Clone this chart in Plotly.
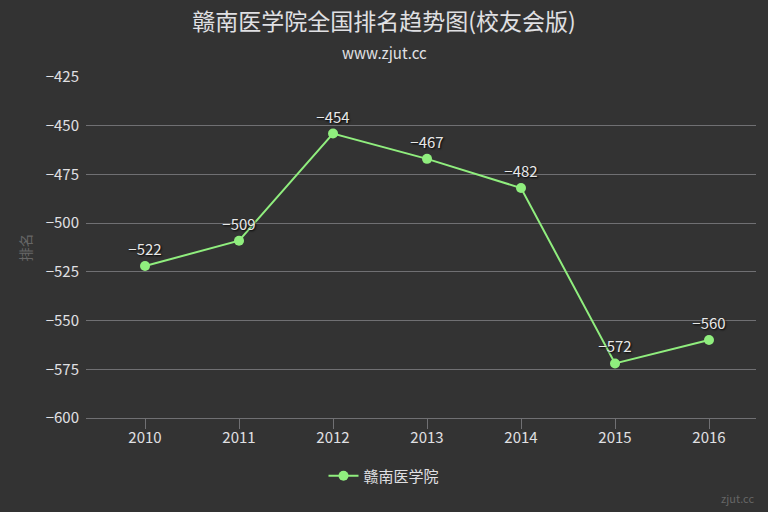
import plotly.graph_objects as go

years = ["2010", "2011", "2012", "2013", "2014", "2015", "2016"]
ranks = [-522, -509, -454, -467, -482, -572, -560]
y_ticks = [-425, -450, -475, -500, -525, -550, -575, -600]
series_name = "赣南医学院"
title_text = "赣南医学院全国排名趋势图(校友会版)"
subtitle_text = "www.zjut.cc"

FONT = "Noto Sans CJK SC, Noto Sans, sans-serif"
W, H = 768, 512
L, R, T, B = 86, 12, 77, 94
PH = H - T - B
PW = W - L - R

fig = go.Figure()
fig.add_trace(go.Scatter(
    x=list(range(len(years))), y=ranks, name=series_name,
    mode="lines+markers+text",
    line=dict(color="#90ee7e", width=2),
    marker=dict(color="#90ee7e", size=10),
    text=[str(v).replace("-", "−") for v in ranks],
    textposition="top center",
    textfont=dict(family=FONT, size=15, color="#e8e8e8", shadow="1px 1px 2px #000"),
    cliponaxis=False,
))

fig.update_layout(
    width=W, height=H,
    margin=dict(l=L, r=R, t=T, b=B, autoexpand=False),
    paper_bgcolor="#333333", plot_bgcolor="#333333",
    font=dict(family=FONT, color="#e0e0e3"),
    title=dict(text=title_text, x=0.5, xanchor="center", y=1 - 22 / H, yanchor="middle",
               font=dict(size=23, color="#e0e0e3")),
    showlegend=True,
    legend=dict(orientation="h", x=0.5, xanchor="center", xref="container",
                y=(H - 476) / H, yanchor="middle", yref="container",
                font=dict(size=15, color="#e0e0e3"), bgcolor="rgba(0,0,0,0)"),
    xaxis=dict(
        tickmode="array", tickvals=list(range(len(years))), ticktext=years,
        range=[-0.628, 6.5], showgrid=False, zeroline=False,
        showline=True, linecolor="#707073", linewidth=1,
        ticks="outside", tickson="boundaries", ticklen=10, tickcolor="#707073",
        ticklabelstandoff=-4,
        tickfont=dict(size=15, color="#e0e0e3"), automargin=False,
    ),
    yaxis=dict(
        range=[-600, -425], tickmode="array", tickvals=y_ticks,
        ticktext=[str(v).replace("-", "−") for v in y_ticks],
        showgrid=True, gridcolor="#707073", gridwidth=1, zeroline=False,
        showline=False, ticks="", ticklabelstandoff=6,
        tickfont=dict(size=15, color="#e0e0e3"), automargin=False,
        title=dict(text="排名", font=dict(size=14, color="#666666"), standoff=10),
    ),
    annotations=[
        dict(text=subtitle_text, xref="paper", yref="paper", x=(W / 2 - L) / PW, y=1 + (T - 52) / PH,
             xanchor="center", yanchor="middle", showarrow=False,
             font=dict(size=15, color="#e0e0e3")),
        dict(text="zjut.cc", xref="paper", yref="paper", x=1, y=-(498 - (H - B)) / PH,
             xanchor="right", yanchor="middle", showarrow=False,
             font=dict(size=11, color="#666666")),
    ],
)

fig.write_html("out.html", config={"displayModeBar": False},
               post_script="document.body.style.margin='0';document.body.style.background='#333333';")
